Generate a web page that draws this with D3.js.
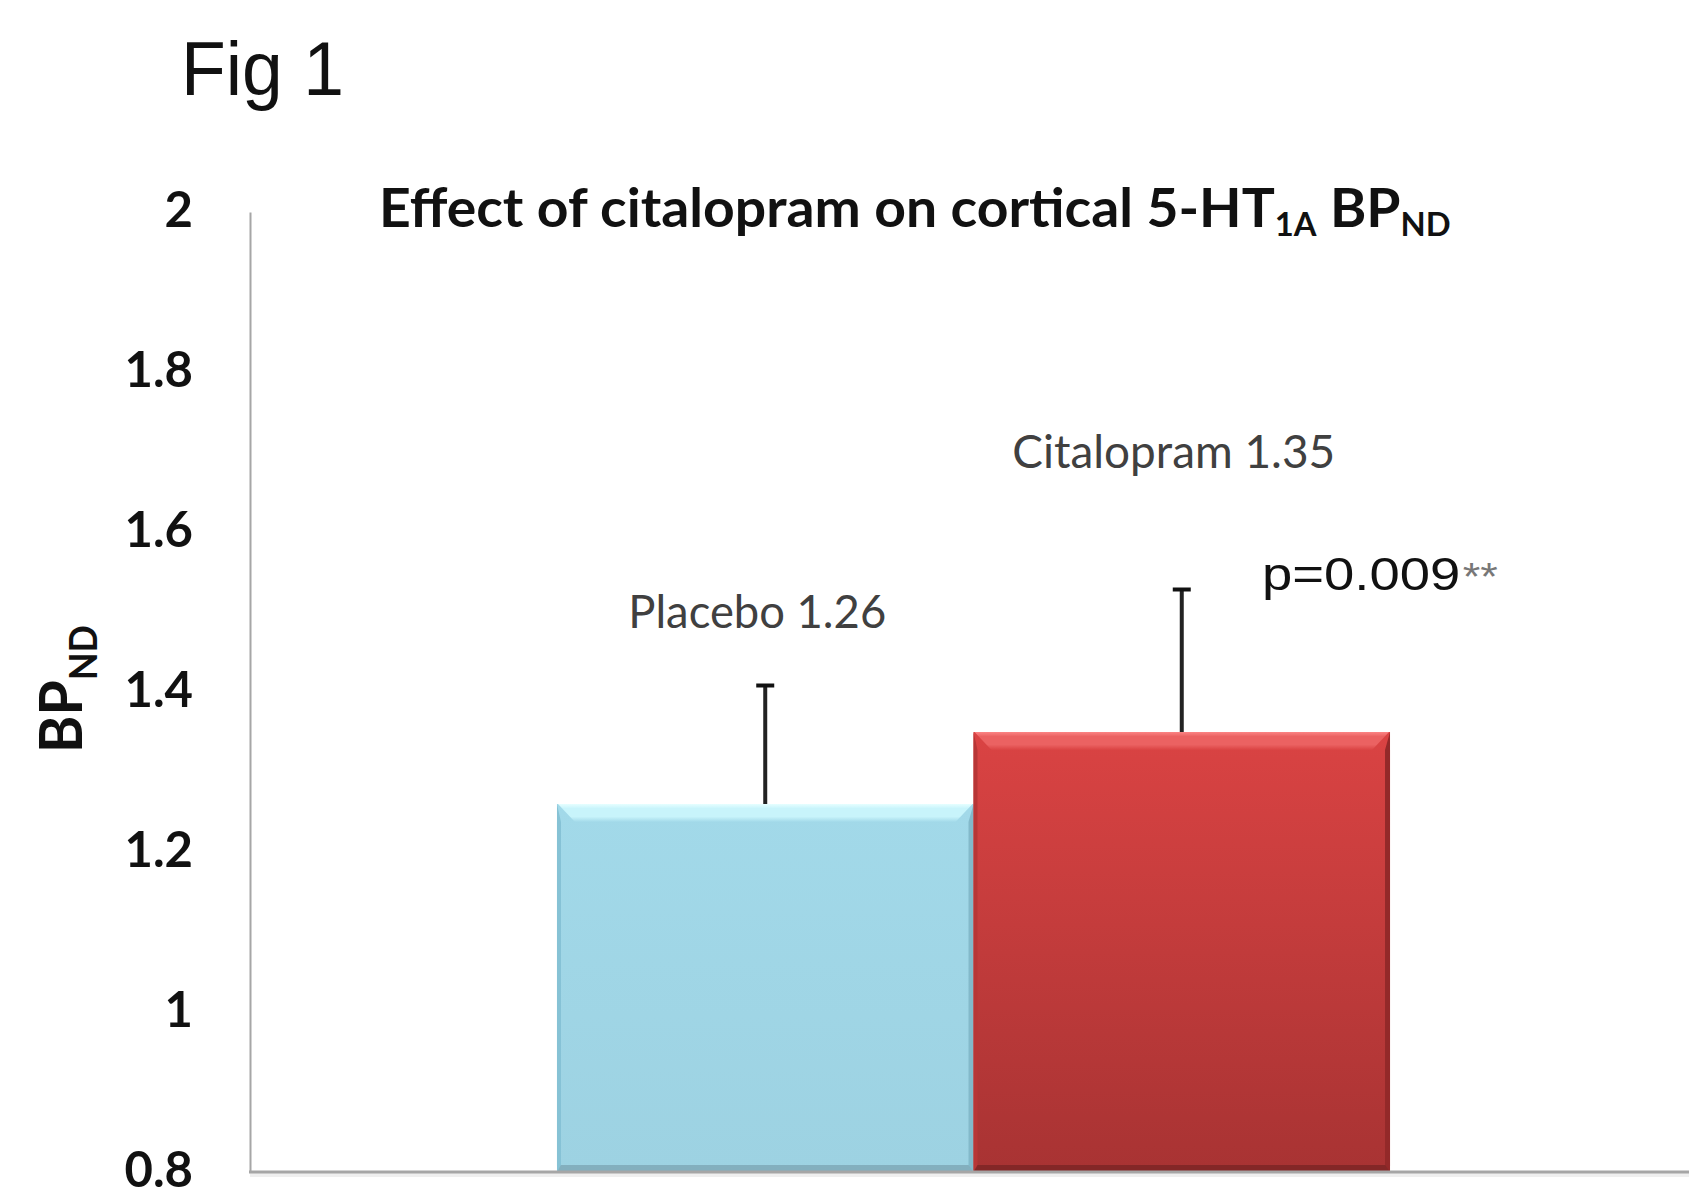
<!DOCTYPE html>
<html>
<head>
<meta charset="utf-8">
<script src="https://cdn.jsdelivr.net/npm/d3@7"></script>
<style>
  body { margin: 0; background: #fff; }
  svg { display: block; }
</style>
</head>
<body>
<svg></svg>
<script>
// values
let groups = ['Placebo', 'Citalopram'];
let means = [1.26, 1.35];
let sds = [0.15, 0.18];
let yTicks = [0.8, 1, 1.2, 1.4, 1.6, 1.8, 2];
let barLabels = ['Placebo 1.26', 'Citalopram 1.35'];
let labelLevels = [1.48, 1.68];   // y value where each label sits
let pValue = 'p=0.009';
let pStars = '**';
let pLevel = 1.527;

let width = 1689;
let height = 1190;
let plotLeft = 250, plotTop = 212, plotBottom = 1172, plotRight = 1697;

let barStyles = [
    { base: '#a2d9e9', baseBot: '#9dd2e2', topA: '#e6ffff', topB: '#c8f4fb',
      leftEdge: '#86c2d5', rightEdge: '#83b9ca', bottomEdge: '#7fa9b7' },
    { base: '#da4343', baseBot: '#a83333', topA: '#fb8484', topB: '#eb6262',
      leftEdge: '#b83636', rightEdge: '#932929', bottomEdge: '#7e2626' }
];

let svg = d3.select('svg')
    .attr('width', width)
    .attr('height', height);

let defs = svg.append('defs');

let yScale = d3.scaleLinear()
    .domain([0.8, 2])
    .range([plotBottom, plotTop]);

let xScale = d3.scaleBand()
    .domain(groups)
    .range([plotLeft, plotRight])
    .paddingInner(0)
    .paddingOuter(0.737);

let yAxis = d3.axisLeft(yScale)
    .tickValues(yTicks)
    .tickSize(0)
    .tickSizeOuter(0)
    .tickPadding(57)
    .tickFormat(d => String(d));

// gradients for each bar
barStyles.forEach((s, i) => {
    let g = defs.append('linearGradient')
        .attr('id', 'body' + i)
        .attr('x1', 0).attr('y1', 0).attr('x2', 0).attr('y2', 1);
    g.append('stop').attr('offset', '0%').attr('stop-color', s.base);
    g.append('stop').attr('offset', '100%').attr('stop-color', s.baseBot);

    let t = defs.append('linearGradient')
        .attr('id', 'top' + i)
        .attr('x1', 0).attr('y1', 0).attr('x2', 0).attr('y2', 1);
    t.append('stop').attr('offset', '0%').attr('stop-color', s.topA);
    t.append('stop').attr('offset', '25%').attr('stop-color', s.topB);
    t.append('stop').attr('offset', '70%').attr('stop-color', s.topB);
    t.append('stop').attr('offset', '100%').attr('stop-color', s.base);
});

let bevel = 18;

let bars = svg.selectAll('g.bar')
    .data(groups)
    .enter()
    .append('g')
        .attr('class', 'bar');

bars.each(function (d, i) {
    let g = d3.select(this);
    let s = barStyles[i];
    let x0 = xScale(d);
    let w = xScale.bandwidth();
    let yT = yScale(means[i]);
    let yB = yScale(0.8);

    g.append('rect')
        .attr('x', x0).attr('y', yT)
        .attr('width', w).attr('height', yB - yT)
        .attr('fill', `url(#body${i})`);

    // left and right faces
    g.append('polygon')
        .attr('points', [[x0, yT], [x0 + 4, yT + bevel], [x0 + 4, yB - 6], [x0, yB]].join(' '))
        .attr('fill', s.leftEdge);
    g.append('polygon')
        .attr('points', [[x0 + w, yT], [x0 + w - 5, yT + bevel], [x0 + w - 5, yB - 6], [x0 + w, yB]].join(' '))
        .attr('fill', s.rightEdge);

    // top bevel face
    g.append('polygon')
        .attr('points', [[x0 + 1, yT], [x0 + w - 1, yT], [x0 + w - bevel, yT + bevel], [x0 + bevel, yT + bevel]].join(' '))
        .attr('fill', `url(#top${i})`);

    // bottom face
    g.append('polygon')
        .attr('points', [[x0, yB], [x0 + w, yB], [x0 + w - 5, yB - 7], [x0 + 4, yB - 7]].join(' '))
        .attr('fill', s.bottomEdge)
        .attr('opacity', 0.85);

    // error bar (upper only)
    let cx = x0 + w / 2;
    let yE = yScale(means[i] + sds[i]);
    g.append('line')
        .attr('x1', cx).attr('x2', cx)
        .attr('y1', yT).attr('y2', yE)
        .attr('stroke', '#222')
        .attr('stroke-width', 4);
    g.append('line')
        .attr('x1', cx - 9).attr('x2', cx + 9)
        .attr('y1', yE + 1.5).attr('y2', yE + 1.5)
        .attr('stroke', '#111')
        .attr('stroke-width', 4);
});

// axes
let yAxisG = svg.append('g')
    .attr('transform', `translate(${plotLeft}, 0)`)
    .call(yAxis);

yAxisG.select('.domain')
    .attr('stroke', '#a6a6a6')
    .attr('stroke-width', 2);

yAxisG.selectAll('text')
    .attr('fill', '#111')
    .attr('dy', '0.3em')
    .style('font-family', 'Lato, sans-serif')
    .style('font-weight', 'bold')
    .style('font-size', '49px');

// baseline with its soft shadow
svg.append('line')
    .attr('x1', plotLeft).attr('x2', width)
    .attr('y1', plotBottom + 3).attr('y2', plotBottom + 3)
    .attr('stroke', '#efefef')
    .attr('stroke-width', 4);
svg.append('line')
    .attr('x1', plotLeft - 1).attr('x2', width)
    .attr('y1', plotBottom).attr('y2', plotBottom)
    .attr('stroke', '#a6a6a6')
    .attr('stroke-width', 3);

// text helper: squeeze a text horizontally to a given width
function fit(textSel, target) {
    let w = textSel.node().getBBox().width;
    let sx = target / w;
    textSel.attr('transform', `scale(${sx}, 1)`);
}

// figure label
let figG = svg.append('g').attr('transform', 'translate(181, 95)');
let fig = figG.append('text')
    .attr('fill', '#111')
    .style('font-family', '"Liberation Sans", Arial, sans-serif')
    .style('font-size', '76px')
    .text('Fig 1');
fit(fig, 163);

// chart title
let titleG = svg.append('g').attr('transform', 'translate(379, 227)');
let title = titleG.append('text')
    .attr('fill', '#111')
    .style('font-family', 'Lato, sans-serif')
    .style('font-weight', 'bold')
    .style('font-size', '54px');
title.append('tspan').text('Effect of citalopram on cortical 5-HT');
title.append('tspan').attr('dy', 9).style('font-size', '32px').text('1A');
title.append('tspan').attr('dy', -9).text(' BP');
title.append('tspan').attr('dy', 9).style('font-size', '32px').text('ND');
fit(title, 1072);

// y axis title
let yLabG = svg.append('g').attr('transform', 'translate(82, 689) rotate(-90)');
let yLab = yLabG.append('text')
    .attr('fill', '#111')
    .style('font-family', 'Lato, sans-serif')
    .style('font-weight', 'bold')
    .style('font-size', '60px')
    .style('text-anchor', 'middle');
yLab.append('tspan').text('BP');
yLab.append('tspan').attr('dy', 15).style('font-size', '38px').text('ND');
fit(yLab, 128);

// value labels over the bars
barLabels.forEach((t, i) => {
    let g = svg.append('g')
        .attr('transform', `translate(${xScale(groups[i]) + xScale.bandwidth() / 2 - 8}, ${yScale(labelLevels[i])})`);
    let txt = g.append('text')
        .attr('fill', '#404040')
        .style('font-family', 'Lato, sans-serif')
        .style('font-size', '46px')
        .style('text-anchor', 'middle')
        .text(t);
    fit(txt, i === 0 ? 258 : 323);
});

// significance note
let pG = svg.append('g')
    .attr('transform', `translate(1262, ${yScale(pLevel)})`);
let pTxt = pG.append('text')
    .style('font-family', '"Liberation Sans", Arial, sans-serif')
    .style('font-size', '46px');
pTxt.append('tspan').attr('fill', '#111').text(pValue);
pTxt.append('tspan').attr('fill', '#777').style('font-size', '38px').attr('dx', 2).text(pStars);
fit(pTxt, 236);
</script>
</body>
</html>
